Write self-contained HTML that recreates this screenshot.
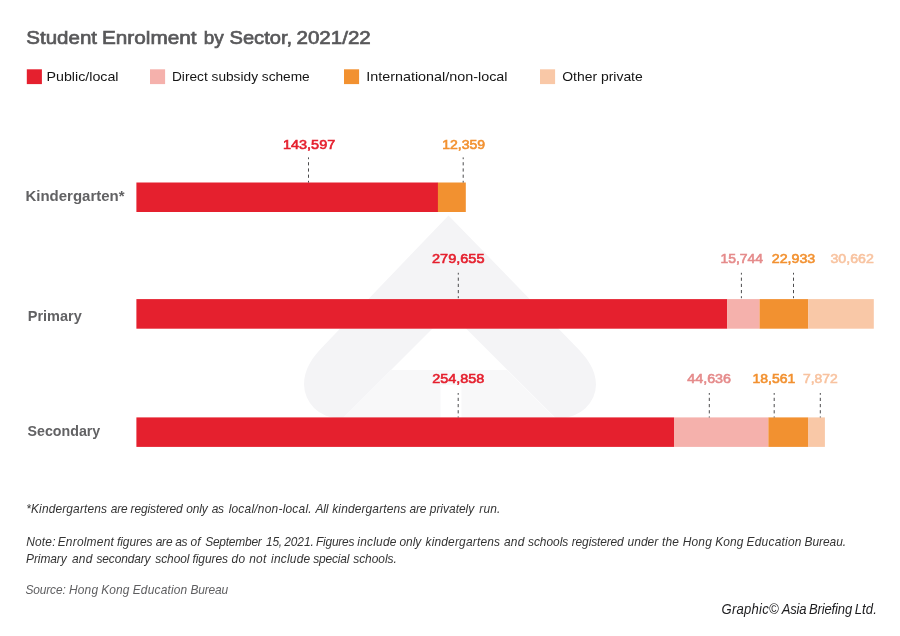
<!DOCTYPE html>
<html lang="en">
<head>
<meta charset="utf-8">
<title>Student Enrolment by Sector, 2021/22</title>
<style>
html,body{margin:0;padding:0;background:#fff;}
body{width:900px;height:636px;overflow:hidden;}
svg{display:block;}
svg text{font-family:"Liberation Sans",Arial,Helvetica,sans-serif;}
.dash line{stroke:#4c4c4e;stroke-width:1;stroke-dasharray:3.2 3;stroke-dashoffset:1.4;}
</style>
</head>
<body>
<svg width="900" height="636" viewBox="0 0 900 636">
<rect width="900" height="636" fill="#ffffff"/>
<g id="wm">
<path d="M448.5,215.4 L323.2,346.2 C313,356.5 304,369 304,384.5 A34.5,34 0 0 0 338.5,418 L343,418 L449.3,311.7 L555.6,418 L560,418 A36,33.5 0 0 0 596,384.5 C596,369 586,356.5 575.6,346.2 Z" fill="#f4f4f6"/>
<path d="M391,370 L507,370 L555,418 L461.5,418 L461.5,385 L440.5,385 L440.5,418 L343,418 Z" fill="#f8f8f9"/>
</g>
<g id="legend">
<rect x="26.8" y="69.3" width="15.1" height="14.8" fill="#e5202e"/>
<rect x="150" y="69.3" width="15.1" height="14.8" fill="#f5b1ac"/>
<rect x="344" y="69.3" width="15.1" height="14.8" fill="#f29130"/>
<rect x="540" y="69.3" width="15.1" height="14.8" fill="#f9c8a7"/>
</g>
<g id="bars">
<rect x="136.4" y="182.5" width="301.6" height="29.5" fill="#e5202e"/>
<rect x="437.9" y="182.5" width="27.9" height="29.5" fill="#f29130"/>
<rect x="136.4" y="299.1" width="590.8" height="29.6" fill="#e5202e"/>
<rect x="727.1" y="299.1" width="32.6" height="29.6" fill="#f5b1ac"/>
<rect x="759.6" y="299.1" width="48.7" height="29.6" fill="#f29130"/>
<rect x="808.2" y="299.1" width="65.6" height="29.6" fill="#f9c8a7"/>
<rect x="136.4" y="417.4" width="537.7" height="29.5" fill="#e5202e"/>
<rect x="674.0" y="417.4" width="94.5" height="29.5" fill="#f5b1ac"/>
<rect x="768.4" y="417.4" width="39.7" height="29.5" fill="#f29130"/>
<rect x="808.0" y="417.4" width="16.9" height="29.5" fill="#f9c8a7"/>
</g>
<g class="dash">
<line x1="308.5" y1="157.4" x2="308.5" y2="182.6"/>
<line x1="463.2" y1="157.4" x2="463.2" y2="182.6"/>
<line x1="458.3" y1="272.8" x2="458.3" y2="298.2"/>
<line x1="741.4" y1="272.8" x2="741.4" y2="298.2"/>
<line x1="793.5" y1="272.8" x2="793.5" y2="298.2"/>
<line x1="458.2" y1="393.0" x2="458.2" y2="417.5"/>
<line x1="709.3" y1="393.0" x2="709.3" y2="417.5"/>
<line x1="774.2" y1="393.0" x2="774.2" y2="417.5"/>
<line x1="820.3" y1="393.0" x2="820.3" y2="417.5"/>
</g>
<g id="texts">
<text id="t1" x="26.25" y="44.10" font-size="19.0" font-weight="normal" font-style="normal" fill="#58585a" stroke="#58585a" stroke-width="0.7" textLength="70.75" lengthAdjust="spacingAndGlyphs">Student</text>
<text id="t2" x="101.97" y="44.10" font-size="19.0" font-weight="normal" font-style="normal" fill="#58585a" stroke="#58585a" stroke-width="0.7" textLength="94.53" lengthAdjust="spacingAndGlyphs">Enrolment</text>
<text id="t3" x="203.73" y="44.10" font-size="19.0" font-weight="normal" font-style="normal" fill="#58585a" stroke="#58585a" stroke-width="0.7" textLength="19.99" lengthAdjust="spacingAndGlyphs">by</text>
<text id="t3b" x="229.48" y="44.10" font-size="19.0" font-weight="normal" font-style="normal" fill="#58585a" stroke="#58585a" stroke-width="0.7" textLength="62.68" lengthAdjust="spacingAndGlyphs">Sector,</text>
<text id="t4" x="296.49" y="44.10" font-size="19.0" font-weight="normal" font-style="normal" fill="#58585a" stroke="#58585a" stroke-width="0.7" textLength="74.28" lengthAdjust="spacingAndGlyphs">2021/22</text>
<text id="lg1" x="46.47" y="81.20" font-size="13.3" font-weight="normal" font-style="normal" fill="#151515" textLength="72.06" lengthAdjust="spacingAndGlyphs">Public/local</text>
<text id="lg2" x="171.98" y="81.20" font-size="13.3" font-weight="normal" font-style="normal" fill="#151515" textLength="137.78" lengthAdjust="spacingAndGlyphs">Direct subsidy scheme</text>
<text id="lg3" x="366.23" y="81.20" font-size="13.3" font-weight="normal" font-style="normal" fill="#151515" textLength="141.28" lengthAdjust="spacingAndGlyphs">International/non-local</text>
<text id="lg4" x="562.24" y="81.20" font-size="13.3" font-weight="normal" font-style="normal" fill="#151515" textLength="80.52" lengthAdjust="spacingAndGlyphs">Other private</text>
<text id="row1" x="25.49" y="201.30" font-size="14.2" font-weight="bold" font-style="normal" fill="#626264" textLength="99.01" lengthAdjust="spacingAndGlyphs">Kindergarten*</text>
<text id="row2" x="27.73" y="320.50" font-size="14.2" font-weight="bold" font-style="normal" fill="#626264" textLength="54.02" lengthAdjust="spacingAndGlyphs">Primary</text>
<text id="row3" x="27.50" y="436.30" font-size="14.2" font-weight="bold" font-style="normal" fill="#626264" textLength="72.75" lengthAdjust="spacingAndGlyphs">Secondary</text>
<text id="v11" x="282.98" y="148.60" font-size="12.9" font-weight="normal" font-style="normal" fill="#e5202e" stroke="#e5202e" stroke-width="0.6" textLength="52.27" lengthAdjust="spacingAndGlyphs">143,597</text>
<text id="v12" x="442.23" y="148.60" font-size="12.9" font-weight="normal" font-style="normal" fill="#f29130" stroke="#f29130" stroke-width="0.6" textLength="42.80" lengthAdjust="spacingAndGlyphs">12,359</text>
<text id="v21" x="432.00" y="263.00" font-size="12.9" font-weight="normal" font-style="normal" fill="#e5202e" stroke="#e5202e" stroke-width="0.6" textLength="52.51" lengthAdjust="spacingAndGlyphs">279,655</text>
<text id="v22" x="720.49" y="263.00" font-size="12.9" font-weight="normal" font-style="normal" fill="#e58b8b" stroke="#e58b8b" stroke-width="0.6" textLength="42.52" lengthAdjust="spacingAndGlyphs">15,744</text>
<text id="v23" x="771.75" y="263.00" font-size="12.9" font-weight="normal" font-style="normal" fill="#f29130" stroke="#f29130" stroke-width="0.6" textLength="43.51" lengthAdjust="spacingAndGlyphs">22,933</text>
<text id="v24" x="830.50" y="263.00" font-size="12.9" font-weight="normal" font-style="normal" fill="#f8c3a0" stroke="#f8c3a0" stroke-width="0.6" textLength="43.26" lengthAdjust="spacingAndGlyphs">30,662</text>
<text id="v31" x="432.24" y="383.10" font-size="12.9" font-weight="normal" font-style="normal" fill="#e5202e" stroke="#e5202e" stroke-width="0.6" textLength="52.03" lengthAdjust="spacingAndGlyphs">254,858</text>
<text id="v32" x="687.25" y="383.10" font-size="12.9" font-weight="normal" font-style="normal" fill="#e58b8b" stroke="#e58b8b" stroke-width="0.6" textLength="43.75" lengthAdjust="spacingAndGlyphs">44,636</text>
<text id="v33" x="752.48" y="383.10" font-size="12.9" font-weight="normal" font-style="normal" fill="#f29130" stroke="#f29130" stroke-width="0.6" textLength="42.78" lengthAdjust="spacingAndGlyphs">18,561</text>
<text id="v34" x="802.99" y="383.10" font-size="12.9" font-weight="normal" font-style="normal" fill="#f8c3a0" stroke="#f8c3a0" stroke-width="0.6" textLength="34.77" lengthAdjust="spacingAndGlyphs">7,872</text>
<text id="fn1_00" transform="translate(26.24,512.60) scale(0.95,1)" font-size="12.6" font-weight="normal" font-style="italic" fill="#343434" textLength="85.01" lengthAdjust="spacing">*Kindergartens</text>
<text id="fn1_01" transform="translate(110.71,512.60) scale(0.95,1)" font-size="12.6" font-weight="normal" font-style="italic" fill="#343434" textLength="17.72" lengthAdjust="spacing">are</text>
<text id="fn1_02" transform="translate(130.50,512.60) scale(0.95,1)" font-size="12.6" font-weight="normal" font-style="italic" fill="#343434" textLength="55.00" lengthAdjust="spacing">registered</text>
<text id="fn1_03" transform="translate(186.25,512.60) scale(0.95,1)" font-size="12.6" font-weight="normal" font-style="italic" fill="#343434" textLength="22.63" lengthAdjust="spacing">only</text>
<text id="fn1_04" transform="translate(211.67,512.60) scale(0.95,1)" font-size="12.6" font-weight="normal" font-style="italic" fill="#343434" textLength="13.06" lengthAdjust="spacing">as</text>
<text id="fn1_05" transform="translate(228.64,512.60) scale(0.95,1)" font-size="12.6" font-weight="normal" font-style="italic" fill="#343434" textLength="87.37" lengthAdjust="spacing">local/non-local.</text>
<text id="fn1_06" transform="translate(315.57,512.60) scale(0.95,1)" font-size="12.6" font-weight="normal" font-style="italic" fill="#343434" textLength="13.53" lengthAdjust="spacing">All</text>
<text id="fn1_07" transform="translate(332.25,512.60) scale(0.95,1)" font-size="12.6" font-weight="normal" font-style="italic" fill="#343434" textLength="77.89" lengthAdjust="spacing">kindergartens</text>
<text id="fn1_08" transform="translate(409.58,512.60) scale(0.95,1)" font-size="12.6" font-weight="normal" font-style="italic" fill="#343434" textLength="17.72" lengthAdjust="spacing">are</text>
<text id="fn1_09" transform="translate(429.74,512.60) scale(0.95,1)" font-size="12.6" font-weight="normal" font-style="italic" fill="#343434" textLength="46.86" lengthAdjust="spacing">privately</text>
<text id="fn1_10" transform="translate(479.19,512.60) scale(0.95,1)" font-size="12.6" font-weight="normal" font-style="italic" fill="#343434" textLength="22.37" lengthAdjust="spacing">run.</text>
<text id="fn2_00" transform="translate(26.24,546.00) scale(0.95,1)" font-size="12.6" font-weight="normal" font-style="italic" fill="#343434" textLength="30.83" lengthAdjust="spacing">Note:</text>
<text id="fn2_01" transform="translate(57.64,546.00) scale(0.95,1)" font-size="12.6" font-weight="normal" font-style="italic" fill="#343434" textLength="59.17" lengthAdjust="spacing">Enrolment</text>
<text id="fn2_02" transform="translate(116.99,546.00) scale(0.95,1)" font-size="12.6" font-weight="normal" font-style="italic" fill="#343434" textLength="37.40" lengthAdjust="spacing">figures</text>
<text id="fn2_03" transform="translate(155.70,546.00) scale(0.95,1)" font-size="12.6" font-weight="normal" font-style="italic" fill="#343434" textLength="17.72" lengthAdjust="spacing">are</text>
<text id="fn2_04" transform="translate(175.18,546.00) scale(0.95,1)" font-size="12.6" font-weight="normal" font-style="italic" fill="#343434" textLength="13.06" lengthAdjust="spacing">as</text>
<text id="fn2_05" transform="translate(190.46,546.00) scale(0.95,1)" font-size="12.6" font-weight="normal" font-style="italic" fill="#343434" textLength="10.73" lengthAdjust="spacing">of</text>
<text id="fn2_06" transform="translate(205.16,546.00) scale(0.95,1)" font-size="12.6" font-weight="normal" font-style="italic" fill="#343434" textLength="59.66" lengthAdjust="spacing">September</text>
<text id="fn2_07" transform="translate(265.97,546.00) scale(0.95,1)" font-size="12.6" font-weight="normal" font-style="italic" fill="#343434" textLength="17.03" lengthAdjust="spacing">15,</text>
<text id="fn2_08" transform="translate(284.25,546.00) scale(0.95,1)" font-size="12.6" font-weight="normal" font-style="italic" fill="#343434" textLength="31.13" lengthAdjust="spacing">2021.</text>
<text id="fn2_09" transform="translate(315.99,546.00) scale(0.95,1)" font-size="12.6" font-weight="normal" font-style="italic" fill="#343434" textLength="40.55" lengthAdjust="spacing">Figures</text>
<text id="fn2_10" transform="translate(357.29,546.00) scale(0.95,1)" font-size="12.6" font-weight="normal" font-style="italic" fill="#343434" textLength="41.25" lengthAdjust="spacing">include</text>
<text id="fn2_11" transform="translate(399.50,546.00) scale(0.95,1)" font-size="12.6" font-weight="normal" font-style="italic" fill="#343434" textLength="22.89" lengthAdjust="spacing">only</text>
<text id="fn2_12" transform="translate(425.50,546.00) scale(0.95,1)" font-size="12.6" font-weight="normal" font-style="italic" fill="#343434" textLength="78.43" lengthAdjust="spacing">kindergartens</text>
<text id="fn2_13" transform="translate(503.93,546.00) scale(0.95,1)" font-size="12.6" font-weight="normal" font-style="italic" fill="#343434" textLength="21.45" lengthAdjust="spacing">and</text>
<text id="fn2_14" transform="translate(528.00,546.00) scale(0.95,1)" font-size="12.6" font-weight="normal" font-style="italic" fill="#343434" textLength="42.37" lengthAdjust="spacing">schools</text>
<text id="fn2_15" transform="translate(571.75,546.00) scale(0.95,1)" font-size="12.6" font-weight="normal" font-style="italic" fill="#343434" textLength="54.74" lengthAdjust="spacing">registered</text>
<text id="fn2_16" transform="translate(627.50,546.00) scale(0.95,1)" font-size="12.6" font-weight="normal" font-style="italic" fill="#343434" textLength="32.37" lengthAdjust="spacing">under</text>
<text id="fn2_17" transform="translate(661.96,546.00) scale(0.95,1)" font-size="12.6" font-weight="normal" font-style="italic" fill="#343434" textLength="17.71" lengthAdjust="spacing">the</text>
<text id="fn2_18" transform="translate(682.63,546.00) scale(0.95,1)" font-size="12.6" font-weight="normal" font-style="italic" fill="#343434" textLength="30.77" lengthAdjust="spacing">Hong</text>
<text id="fn2_19" transform="translate(715.24,546.00) scale(0.95,1)" font-size="12.6" font-weight="normal" font-style="italic" fill="#343434" textLength="29.74" lengthAdjust="spacing">Kong</text>
<text id="fn2_20" transform="translate(746.55,546.00) scale(0.95,1)" font-size="12.6" font-weight="normal" font-style="italic" fill="#343434" textLength="57.80" lengthAdjust="spacing">Education</text>
<text id="fn2_21" transform="translate(804.49,546.00) scale(0.95,1)" font-size="12.6" font-weight="normal" font-style="italic" fill="#343434" textLength="43.78" lengthAdjust="spacing">Bureau.</text>
<text id="fn3_00" transform="translate(26.00,562.90) scale(0.95,1)" font-size="12.6" font-weight="normal" font-style="italic" fill="#343434" textLength="42.89" lengthAdjust="spacing">Primary</text>
<text id="fn3_01" transform="translate(71.94,562.90) scale(0.95,1)" font-size="12.6" font-weight="normal" font-style="italic" fill="#343434" textLength="21.45" lengthAdjust="spacing">and</text>
<text id="fn3_02" transform="translate(96.50,562.90) scale(0.95,1)" font-size="12.6" font-weight="normal" font-style="italic" fill="#343434" textLength="56.84" lengthAdjust="spacing">secondary</text>
<text id="fn3_03" transform="translate(155.25,562.90) scale(0.95,1)" font-size="12.6" font-weight="normal" font-style="italic" fill="#343434" textLength="36.05" lengthAdjust="spacing">school</text>
<text id="fn3_04" transform="translate(192.49,562.90) scale(0.95,1)" font-size="12.6" font-weight="normal" font-style="italic" fill="#343434" textLength="37.39" lengthAdjust="spacing">figures</text>
<text id="fn3_05" transform="translate(231.61,562.90) scale(0.95,1)" font-size="12.6" font-weight="normal" font-style="italic" fill="#343434" textLength="14.23" lengthAdjust="spacing">do</text>
<text id="fn3_06" transform="translate(249.22,562.90) scale(0.95,1)" font-size="12.6" font-weight="normal" font-style="italic" fill="#343434" textLength="17.96" lengthAdjust="spacing">not</text>
<text id="fn3_07" transform="translate(271.04,562.90) scale(0.95,1)" font-size="12.6" font-weight="normal" font-style="italic" fill="#343434" textLength="41.25" lengthAdjust="spacing">include</text>
<text id="fn3_08" transform="translate(313.25,562.90) scale(0.95,1)" font-size="12.6" font-weight="normal" font-style="italic" fill="#343434" textLength="38.16" lengthAdjust="spacing">special</text>
<text id="fn3_09" transform="translate(353.24,562.90) scale(0.95,1)" font-size="12.6" font-weight="normal" font-style="italic" fill="#343434" textLength="45.87" lengthAdjust="spacing">schools.</text>
<text id="fn4_00" transform="translate(25.49,594.30) scale(0.95,1)" font-size="12.6" font-weight="normal" font-style="italic" fill="#5e5e60" textLength="42.40" lengthAdjust="spacing">Source:</text>
<text id="fn4_01" transform="translate(68.88,594.30) scale(0.95,1)" font-size="12.6" font-weight="normal" font-style="italic" fill="#5e5e60" textLength="30.77" lengthAdjust="spacing">Hong</text>
<text id="fn4_02" transform="translate(101.24,594.30) scale(0.95,1)" font-size="12.6" font-weight="normal" font-style="italic" fill="#5e5e60" textLength="29.77" lengthAdjust="spacing">Kong</text>
<text id="fn4_03" transform="translate(132.74,594.30) scale(0.95,1)" font-size="12.6" font-weight="normal" font-style="italic" fill="#5e5e60" textLength="57.38" lengthAdjust="spacing">Education</text>
<text id="fn4_04" transform="translate(190.49,594.30) scale(0.95,1)" font-size="12.6" font-weight="normal" font-style="italic" fill="#5e5e60" textLength="39.75" lengthAdjust="spacing">Bureau</text>
<text id="cr_00" transform="translate(721.62,614.40) scale(0.935,1)" font-size="14.0" font-weight="normal" font-style="italic" fill="#1c1c1e" textLength="60.96" lengthAdjust="spacing">Graphic©</text>
<text id="cr_01" transform="translate(781.73,614.40) scale(0.935,1)" font-size="14.0" font-weight="normal" font-style="italic" fill="#1c1c1e" textLength="26.52" lengthAdjust="spacing">Asia</text>
<text id="cr_02" transform="translate(808.99,614.40) scale(0.935,1)" font-size="14.0" font-weight="normal" font-style="italic" fill="#1c1c1e" textLength="46.27" lengthAdjust="spacing">Briefing</text>
<text id="cr_03" transform="translate(854.70,614.40) scale(0.935,1)" font-size="14.0" font-weight="normal" font-style="italic" fill="#1c1c1e" textLength="23.74" lengthAdjust="spacing">Ltd.</text>
</g>
</svg>
</body>
</html>
